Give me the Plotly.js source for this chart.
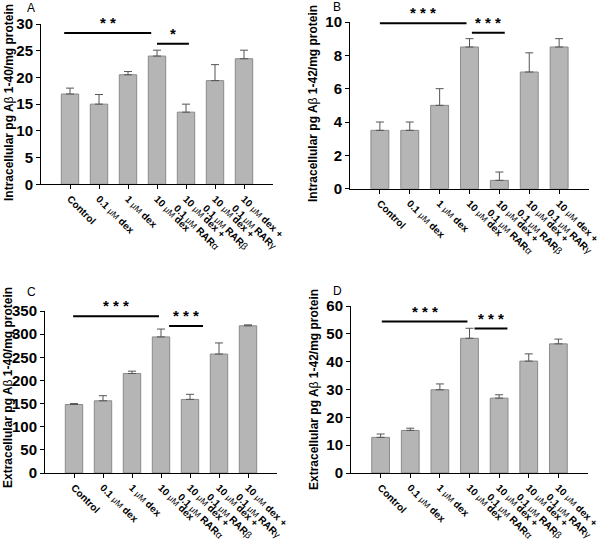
<!DOCTYPE html>
<html>
<head>
<meta charset="utf-8">
<script src="https://cdn.plot.ly/plotly-3.0.1.min.js"></script>
<style>body{margin:0;padding:0;background:#fff}#chart{width:600px;height:550px}</style>
</head>
<body>
<div id="chart"></div>
<script>
// ---- data ----
var categories = ["Control", "0.1 dex", "1 dex", "10 dex", "10 dex + RARa", "10 dex + RARb", "10 dex + RARg"];
var mu = "<span style='font-weight:normal;font-size:8.5px'>\u03bcM</span>";
var tickLabels = [
  "Control",
  "0.1 " + mu + " dex",
  "1 " + mu + " dex",
  "10 " + mu + " dex",
  "10 " + mu + " dex +<br>0.1 " + mu + " RAR<span style='font-weight:normal'>\u03b1</span>",
  "10 " + mu + " dex +<br>0.1 " + mu + " RAR<span style='font-weight:normal'>\u03b2</span>",
  "10 " + mu + " dex +<br>0.1 " + mu + " RAR<span style='font-weight:normal'>\u03b3</span>"
];

var valuesA = [16.9, 15.0, 20.5, 24.0, 13.5, 19.4, 23.5];
var errorsA = [1.1, 1.8, 0.6, 1.1, 1.5, 3.0, 1.6];
var valuesB = [3.5, 3.5, 5.0, 8.5, 0.5, 7.0, 8.5];
var errorsB = [0.5, 0.5, 1.0, 0.5, 0.5, 1.15, 0.5];
var valuesC = [148, 156, 215, 294, 159, 257, 318];
var errorsC = [2, 11, 5, 17, 11, 24, 2];
var valuesD = [12.8, 15.3, 29.9, 48.4, 26.9, 40.2, 46.4];
var errorsD = [1.2, 0.8, 2.1, 3.6, 1.2, 2.6, 1.7];
var noLowerError = [0, 0, 0, 0, 0, 0, 0];

var titleA = "Intracellular pg A<span style='font-weight:normal'>\u03b2</span> 1-40/mg protein";
var titleB = "Intracellular pg A<span style='font-weight:normal'>\u03b2</span> 1-42/mg protein";
var titleC = "Extracellular pg A<span style='font-weight:normal'>\u03b2</span> 1-40/mg protein";
var titleD = "Extracellular pg A<span style='font-weight:normal'>\u03b2</span> 1-42/mg protein";

// significance brackets: [x0, x1, y, stars]
var sigA = [[-0.2, 2.8, 28.3, "* *"], [3.0, 4.1, 26.3, "*"]];
var sigB = [[0.0, 2.9, 9.92, "* * *"], [3.08, 4.18, 9.36, "* * *"]];
var sigC = [[-0.03, 2.93, 338.5, "* * *"], [3.28, 4.45, 317.6, "* * *"]];
var sigD = [[0.04, 2.93, 54.4, "* * *"], [3.17, 4.28, 51.9, "* * *"]];

// ---- build ----
var FONT = "Liberation Sans, Arial, sans-serif";
function barTrace(vals, errs, xa, ya) {
  return {
    type: "bar", x: categories, y: vals, xaxis: xa, yaxis: ya,
    width: 0.6,
    marker: {color: "#b5b5b5", line: {color: "#8a8a8a", width: 1}},
    error_y: {type: "data", symmetric: false, array: errs, arrayminus: noLowerError,
              color: "#555", thickness: 1, width: 4},
    showlegend: false, hoverinfo: "skip"
  };
}
var data = [
  barTrace(valuesA, errorsA, "x", "y"),
  barTrace(valuesB, errorsB, "x2", "y2"),
  barTrace(valuesC, errorsC, "x3", "y3"),
  barTrace(valuesD, errorsD, "x4", "y4")
];

function xAxis(domain, anchor) {
  return {domain: domain, anchor: anchor, type: "category", range: [-1, 7],
    tickvals: categories, ticktext: tickLabels, tickangle: 45,
    showline: true, linecolor: "#000", linewidth: 1, ticks: "outside", ticklen: 4, tickcolor: "#000",
    showgrid: false, zeroline: false,
    tickfont: {family: FONT, size: 10, color: "#000", weight: "bold"}};
}
function yAxis(domain, anchor, range, dtick) {
  return {domain: domain, anchor: anchor, range: range, dtick: dtick,
    showline: true, linecolor: "#000", linewidth: 1, ticks: "outside", ticklen: 4, tickcolor: "#000",
    showgrid: false, zeroline: false,
    tickfont: {family: FONT, size: 15, color: "#000", weight: "bold"}};
}

var shapes = [], annotations = [];
function addSig(list, xr, yr) {
  list.forEach(function (s) {
    shapes.push({type: "line", xref: xr, yref: yr, x0: s[0], x1: s[1], y0: s[2], y1: s[2],
                 line: {color: "#000", width: 2}});
    annotations.push({xref: xr, yref: yr, x: (s[0] + s[1]) / 2, y: s[2], text: s[3],
                 showarrow: false, yanchor: "bottom", yshift: 0,
                 font: {family: FONT, size: 15, color: "#000", weight: "bold"}});
  });
}
addSig(sigA, "x", "y");
addSig(sigB, "x2", "y2");
addSig(sigC, "x3", "y3");
addSig(sigD, "x4", "y4");

function yTitle(text, xp, yp) {
  annotations.push({xref: "paper", yref: "paper", x: xp, y: yp, text: text, textangle: -90,
    showarrow: false, xanchor: "center", yanchor: "middle",
    font: {family: FONT, size: 12, color: "#000", weight: "bold"}});
}
yTitle(titleA, 9 / 600, 1 - 103 / 550);
yTitle(titleB, 313 / 600, 1 - 103 / 550);
yTitle(titleC, 8 / 600, 1 - 388 / 550);
yTitle(titleD, 314 / 600, 1 - 390 / 550);

function panelLabel(t, xp, yp) {
  annotations.push({xref: "paper", yref: "paper", x: xp, y: yp, text: t, showarrow: false,
    xanchor: "center", yanchor: "middle", font: {family: FONT, size: 12, color: "#000"}});
}
panelLabel("A", 31 / 600, 1 - 8 / 550);
panelLabel("B", 337 / 600, 1 - 7 / 550);
panelLabel("C", 31 / 600, 1 - 292 / 550);
panelLabel("D", 337 / 600, 1 - 291 / 550);

var layout = {
  width: 600, height: 550, margin: {l: 0, r: 0, t: 0, b: 0},
  paper_bgcolor: "#fff", plot_bgcolor: "#fff",
  font: {family: FONT, color: "#000"},
  bargap: 0.4,
  xaxis: xAxis([41 / 600, 273 / 600], "y"),
  yaxis: yAxis([1 - 184.3 / 550, 1 - 24 / 550], "x", [0, 30], 5),
  xaxis2: xAxis([350 / 600, 589 / 600], "y2"),
  yaxis2: yAxis([1 - 188.7 / 550, 1 - 22 / 550], "x2", [0, 10], 2),
  xaxis3: xAxis([45 / 600, 277 / 600], "y3"),
  yaxis3: yAxis([1 - 473 / 550, 1 - 311 / 550], "x3", [0, 350], 50),
  xaxis4: xAxis([351 / 600, 588 / 600], "y4"),
  yaxis4: yAxis([1 - 473 / 550, 1 - 306 / 550], "x4", [0, 60], 10),
  shapes: shapes,
  annotations: annotations
};
Plotly.newPlot("chart", data, layout, {displayModeBar: false, staticPlot: true});
</script>
</body>
</html>
